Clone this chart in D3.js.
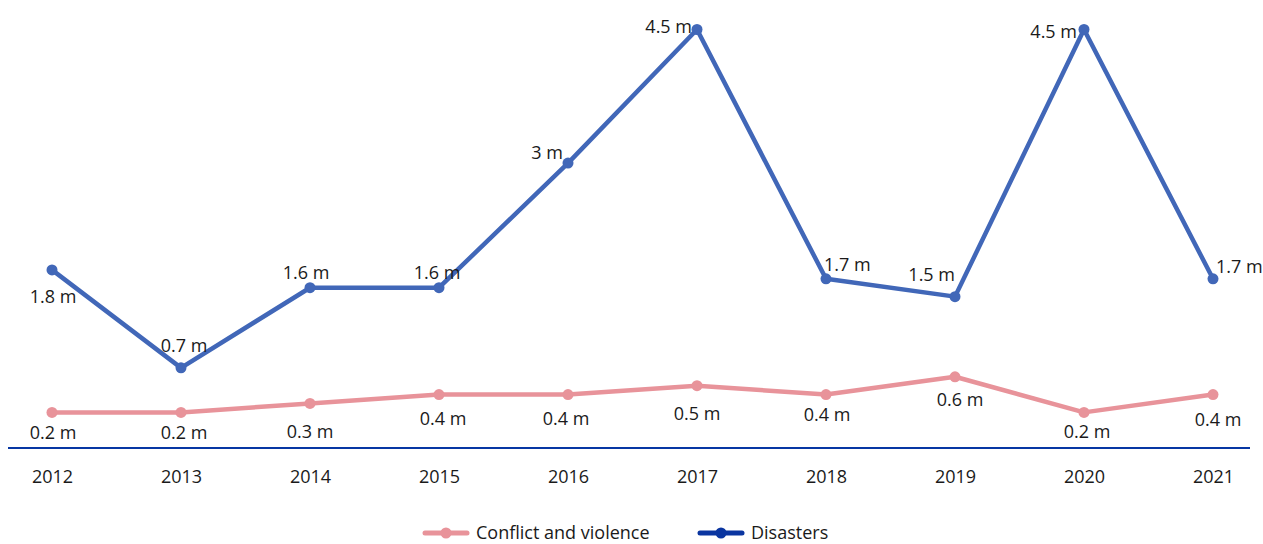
<!DOCTYPE html>
<html>
<head>
<meta charset="utf-8">
<script src="https://cdn.jsdelivr.net/npm/d3@7"></script>
<style>
  html, body { margin: 0; padding: 0; background: #fff; }
  svg { display: block; }
  text { font-family: "Open Sans", "Noto Sans", sans-serif; fill: #1a1a1a; }
</style>
</head>
<body>
<svg id="chart" width="1263" height="544"></svg>
<script>
const years = ["2012","2013","2014","2015","2016","2017","2018","2019","2020","2021"];
const conflictValues = [0.2, 0.2, 0.3, 0.4, 0.4, 0.5, 0.4, 0.6, 0.2, 0.4];
const disasterValues = [1.8, 0.7, 1.6, 1.6, 3.0, 4.5, 1.7, 1.5, 4.5, 1.7];
const conflictLabels = ["0.2 m","0.2 m","0.3 m","0.4 m","0.4 m","0.5 m","0.4 m","0.6 m","0.2 m","0.4 m"];
const disasterLabels = ["1.8 m","0.7 m","1.6 m","1.6 m","3 m","4.5 m","1.7 m","1.5 m","4.5 m","1.7 m"];
const seriesNames = ["Conflict and violence", "Disasters"];

// label placement (layout only): [dx, dy, anchor]
const conflictPlace = [[1,27,"middle"],[3,27,"middle"],[0,35,"middle"],[4,30,"middle"],[-2,30,"middle"],[0,34,"middle"],[1,26,"middle"],[5,29,"middle"],[3,26,"middle"],[5,31,"middle"]];
const disasterPlace = [[1,33,"middle"],[3,-16,"middle"],[-4,-9,"middle"],[-2,-9,"middle"],[-5,-4,"end"],[-5,3,"end"],[-2,-8,"start"],[0,-16,"end"],[-7,8,"end"],[3,-6,"start"]];

const colors = { conflict: "#e8939a", disasters: "#4167b8", disastersLegend: "#0a35a0", axis: "#0636a3" };

const svg = d3.select("#chart");

const x = d3.scalePoint().domain(years).range([52, 1213]);
const y = d3.scaleLinear().domain([-0.2, 4.5]).range([448, 29.5]);

// axis baseline
svg.append("line")
  .attr("x1", 8).attr("x2", 1250)
  .attr("y1", y(-0.2)).attr("y2", y(-0.2))
  .attr("stroke", colors.axis).attr("stroke-width", 2);

// x tick labels via d3 axis
const xAxis = d3.axisBottom(x).tickSize(0).tickPadding(0);
const gx = svg.append("g").attr("transform", `translate(0,${y(-0.2)})`).call(xAxis);
gx.select(".domain").remove();
gx.selectAll("text")
  .attr("dy", null).attr("y", 35)
  .style("font-family", '"Open Sans", "Noto Sans", sans-serif')
  .style("font-size", "18px").style("fill", "#1a1a1a");

const line = d3.line().x((d, i) => x(years[i])).y(d => y(d));

function drawSeries(values, labels, place, color) {
  svg.append("path").datum(values)
    .attr("d", line).attr("fill", "none")
    .attr("stroke", color).attr("stroke-width", 4.5)
    .attr("stroke-linejoin", "round");
  svg.append("g").selectAll("circle").data(values).join("circle")
    .attr("cx", (d, i) => x(years[i])).attr("cy", d => y(d))
    .attr("r", 5.5).attr("fill", color);
  svg.append("g").selectAll("text").data(values).join("text")
    .attr("x", (d, i) => x(years[i]) + place[i][0])
    .attr("y", (d, i) => y(d) + place[i][1])
    .attr("text-anchor", (d, i) => place[i][2])
    .style("font-size", "18px")
    .text((d, i) => labels[i]);
}

drawSeries(conflictValues, conflictLabels, conflictPlace, colors.conflict);
drawSeries(disasterValues, disasterLabels, disasterPlace, colors.disasters);

// legend
const legendItems = [
  { name: seriesNames[0], color: colors.conflict, x0: 425 },
  { name: seriesNames[1], color: colors.disastersLegend, x0: 700 }
];
const lg = svg.append("g");
legendItems.forEach(it => {
  lg.append("line").attr("x1", it.x0).attr("x2", it.x0 + 42)
    .attr("y1", 533).attr("y2", 533)
    .attr("stroke", it.color).attr("stroke-width", 5).attr("stroke-linecap", "round");
  lg.append("circle").attr("cx", it.x0 + 21).attr("cy", 533).attr("r", 5.5).attr("fill", it.color);
  lg.append("text").attr("x", it.x0 + 51).attr("y", 539)
    .style("font-size", "18px").text(it.name);
});
</script>
</body>
</html>
